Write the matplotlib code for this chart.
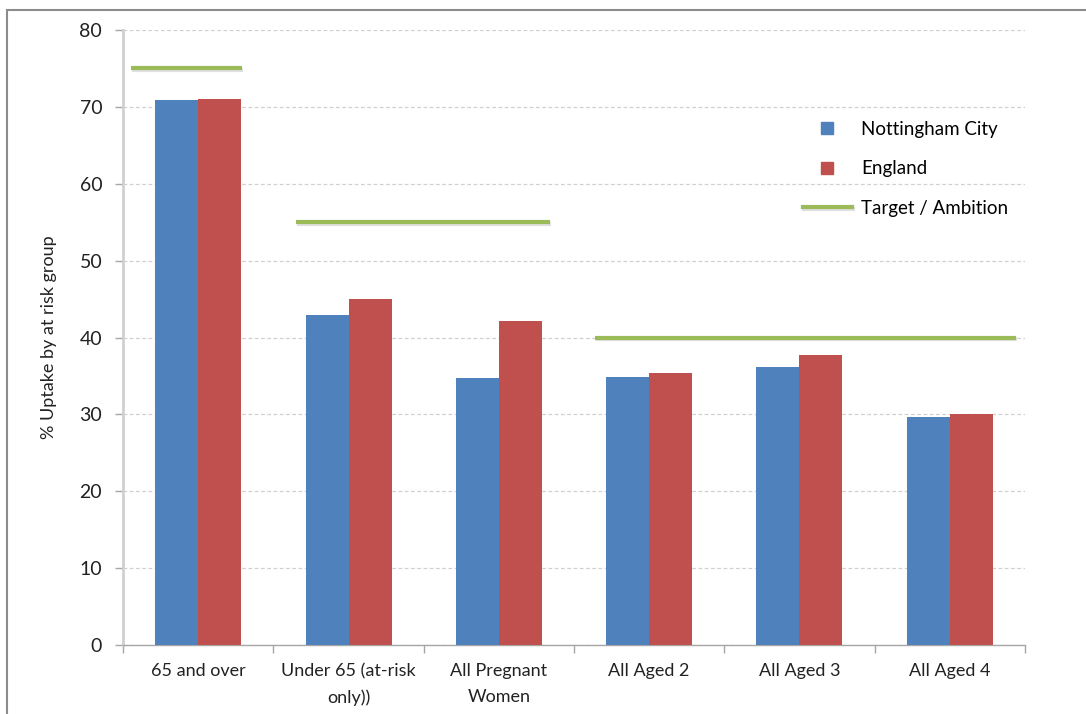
import numpy as np
import matplotlib.pyplot as plt
import matplotlib.patheffects as pe
from matplotlib.lines import Line2D
from matplotlib.patches import Rectangle

plt.rcParams["font.family"] = ["Lato", "DejaVu Sans"]

categories = ["65 and over", "Under 65 (at-risk\nonly))", "All Pregnant\nWomen",
              "All Aged 2", "All Aged 3", "All Aged 4"]
nottingham = [70.9, 42.9, 34.7, 34.8, 36.1, 29.6]
england = [71.0, 45.0, 42.2, 35.4, 37.7, 30.0]

# target / ambition levels and the stretch of categories each one covers
targets = [75, 55, 40]
target_spans = [(-0.45, 0.29), (0.65, 2.34), (2.64, 5.44)]

blue = "#4F81BD"
red = "#C0504D"
green = "#9BBB59"

fig = plt.figure(figsize=(10.86, 7.14), dpi=100)
ax = fig.add_axes([0.1133, 0.0966, 0.8305, 0.8614])

# outer chart frame
fig.patches.append(Rectangle((7 / 1086, -0.1), 1.2, (714 - 10) / 714 + 0.1,
                             transform=fig.transFigure, fill=False,
                             edgecolor="#8c8c8c", linewidth=1.5))

x = np.arange(len(categories))
w = 0.286
ax.bar(x - w / 2, nottingham, w, color=blue, zorder=3)
ax.bar(x + w / 2, england, w, color=red, zorder=3)

shadow = [pe.SimpleLineShadow(offset=(0.8, -1.2), shadow_color="#bbbbbb", alpha=0.45),
          pe.Normal()]
for t, (a, b) in zip(targets, target_spans):
    ax.plot([a, b], [t, t], color=green, lw=3,
            solid_capstyle="butt", zorder=4, path_effects=shadow)

ax.set_xlim(-0.5, len(categories) - 0.5)
ax.set_ylim(0, 80)
ax.set_yticks(range(0, 81, 10))
ax.set_xticks(x)
ax.set_xticklabels(categories, fontsize=13, color="#222222", linespacing=1.75)
ax.set_xticks(np.arange(-0.5, len(categories)), minor=True)
ax.tick_params(axis="x", which="major", length=0, pad=13)
ax.tick_params(axis="x", which="minor", length=6, color="#a6a6a6", width=1)
ax.tick_params(axis="y", length=6, color="#a6a6a6", width=1, pad=9,
               labelsize=14, labelcolor="#222222")

ax.grid(axis="y", color="#d0d0d0", linestyle=(0, (3, 2)), linewidth=0.9, zorder=0)
ax.set_axisbelow(True)
for s in ["top", "right"]:
    ax.spines[s].set_visible(False)
ax.spines["left"].set_color("#d0d0d0")
ax.spines["left"].set_linewidth(2)
ax.spines["bottom"].set_color("#a6a6a6")
ax.spines["bottom"].set_linewidth(1)

ax.set_ylabel("% Uptake by at risk group", fontsize=13, color="#222222", labelpad=16)

handles = [
    Line2D([], [], linestyle="none", marker="s", markersize=8, color=blue),
    Line2D([], [], linestyle="none", marker="s", markersize=8, color=red),
    Line2D([], [], color=green, lw=3, path_effects=shadow),
]
ax.legend(handles, ["Nottingham City", "England", "Target / Ambition"],
          loc="upper left", bbox_to_anchor=(0.735, 0.88), frameon=False,
          fontsize=13.5, handlelength=2.6, labelspacing=1.2, handletextpad=0.5)

fig.savefig("out.png", dpi=100)
